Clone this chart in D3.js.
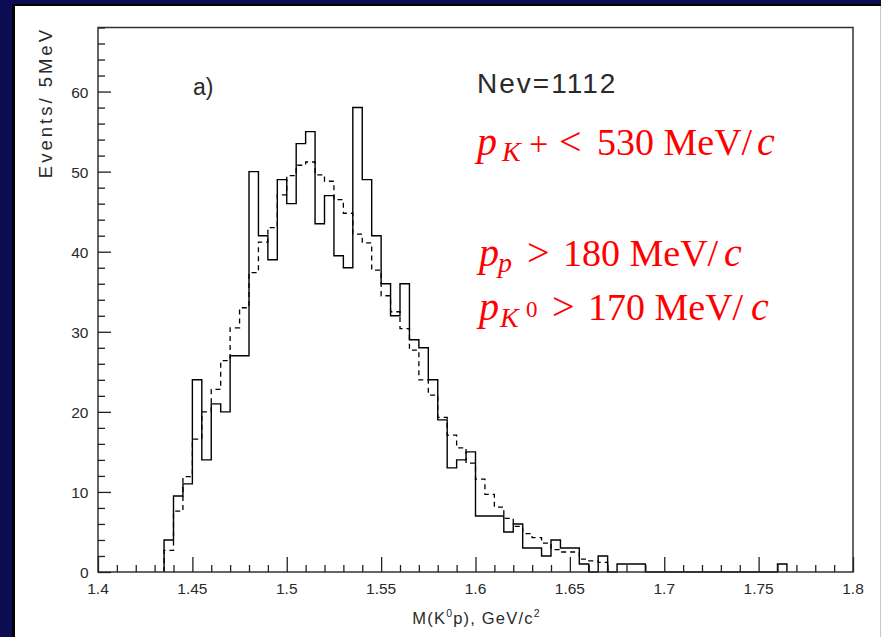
<!DOCTYPE html>
<html>
<head>
<meta charset="utf-8">
<script src="https://cdn.jsdelivr.net/npm/d3@7"></script>
<style>
  html, body { margin: 0; padding: 0; background: #0c0c52; }
  svg { display: block; }
</style>
</head>
<body>
<svg id="chart" width="881" height="637"></svg>
<script>
// Histogram binning: 5 MeV bins starting at 1.435 GeV/c^2
const binStart = 1.435;
const binWidth = 0.005;

// Observed events per bin (solid histogram)
const solidCounts = [
  4, 9.5, 11, 24, 14, 21, 20, 27, 27, 50,
  42, 39, 49, 46, 53.5, 55, 43.5, 47, 39.5, 38,
  58, 49, 42, 36, 32, 36, 29, 28, 24, 19,
  13, 14, 15, 7, 7, 7, 5, 6, 3, 3,
  2, 4, 3, 3, 1, 0, 2, 0, 1, 1,
  1, 0, 0, 0, 0, 0, 0, 0, 0, 0,
  0, 0, 0, 0, 0, 1
];

// Expected shape (dashed histogram)
const dashedCounts = [
  2.7, 7.6, 11.9, 16.6, 20.0, 22.8, 26.4, 30.5, 33.0, 37.4,
  41.2, 43.0, 47.1, 49.5, 50.8, 51.2, 49.6, 48.8, 46.5, 44.8,
  42.2, 41.1, 37.7, 34.5, 32.5, 30.4, 27.7, 24.0, 22.1, 19.3,
  17.1, 15.5, 13.6, 11.6, 9.7, 8.1, 6.7, 5.7, 4.8, 4.3,
  3.6, 2.8, 2.5, 2.5, 1.6, 1.4, 1.2
];

const xTickValues = [1.4, 1.45, 1.5, 1.55, 1.6, 1.65, 1.7, 1.75, 1.8];
const xTickLabels = ["1.4", "1.45", "1.5", "1.55", "1.6", "1.65", "1.7", "1.75", "1.8"];
const yTickValues = [0, 10, 20, 30, 40, 50, 60];

const svg = d3.select("#chart");
const W = 881, H = 637;

// Page frame: navy surround, thin black edge, white canvas
svg.append("rect").attr("width", W).attr("height", H).attr("fill", "#0c0c52");
svg.append("rect").attr("x", 12).attr("y", 4).attr("width", W - 12).attr("height", H - 4).attr("fill", "#000");
svg.append("rect").attr("x", 15).attr("y", 6).attr("width", 865).attr("height", H - 6).attr("fill", "#fff");
svg.append("rect").attr("x", 880).attr("y", 6).attr("width", 1).attr("height", H - 6).attr("fill", "#c8c8c8");

const plot = { left: 98, right: 853, top: 27.5, bottom: 572 };
const x = d3.scaleLinear().domain([1.4, 1.8]).range([plot.left, plot.right]);
const y = d3.scaleLinear().domain([0, 68]).range([plot.bottom, plot.top]);

const sans = "'Liberation Sans', Arial, Helvetica, sans-serif";
const serif = "'Liberation Serif', 'Times New Roman', Times, serif";
const ink = "#2a2a2a";

// Histogram outlines as step paths
function stepPoints(counts) {
  const pts = [[binStart, 0]];
  counts.forEach((c, i) => pts.push([binStart + i * binWidth, c]));
  pts.push([binStart + counts.length * binWidth, 0]);
  return pts;
}
const step = d3.line()
  .x(d => x(d[0]))
  .y(d => y(d[1]))
  .curve(d3.curveStepAfter);

svg.append("path")
  .attr("d", step(stepPoints(dashedCounts)))
  .attr("fill", "none")
  .attr("stroke", "#000")
  .attr("stroke-width", 1.3)
  .attr("stroke-dasharray", "5,4");

svg.append("path")
  .attr("d", step(stepPoints(solidCounts)))
  .attr("fill", "none")
  .attr("stroke", "#000")
  .attr("stroke-width", 1.4);

// Plot box
svg.append("rect")
  .attr("x", plot.left).attr("y", plot.top)
  .attr("width", plot.right - plot.left).attr("height", plot.bottom - plot.top)
  .attr("fill", "none").attr("stroke", "#333").attr("stroke-width", 1.5);

// Y axis: ticks drawn inward
const yAxis = d3.axisRight(y)
  .tickValues(d3.range(0, 69, 2))
  .tickSize(7)
  .tickFormat("");
const gy = svg.append("g").attr("transform", `translate(${plot.left},0)`).call(yAxis);
gy.select(".domain").remove();
gy.selectAll(".tick line")
  .attr("x2", d => (d % 10 === 0 ? 13 : 7))
  .attr("stroke", "#222").attr("stroke-width", 1.3);

svg.append("g").selectAll("text")
  .data(yTickValues)
  .join("text")
  .attr("x", 88.5)
  .attr("y", d => y(d) + 6)
  .attr("text-anchor", "end")
  .attr("font-family", sans)
  .attr("font-size", 15.5)
  .attr("fill", ink)
  .text(d => d);

// X axis: ticks drawn upward
const xAxis = d3.axisTop(x)
  .tickValues(d3.range(0, 41).map(i => 1.4 + i * 0.01))
  .tickSize(7)
  .tickFormat("");
const gx = svg.append("g").attr("transform", `translate(0,${plot.bottom})`).call(xAxis);
gx.select(".domain").remove();
gx.selectAll(".tick line")
  .attr("y2", (d, i) => (i % 5 === 0 ? -15 : -7))
  .attr("stroke", "#222").attr("stroke-width", 1.3);

svg.append("g").selectAll("text")
  .data(xTickValues)
  .join("text")
  .attr("x", d => x(d))
  .attr("y", 594)
  .attr("text-anchor", "middle")
  .attr("font-family", sans)
  .attr("font-size", 15.5)
  .attr("fill", ink)
  .text((d, i) => xTickLabels[i]);

// Axis titles
const xTitle = svg.append("text")
  .attr("x", (plot.left + plot.right) / 2 + 1)
  .attr("y", 624)
  .attr("text-anchor", "middle")
  .attr("font-family", sans)
  .attr("font-size", 16.5)
  .attr("letter-spacing", 1.2)
  .attr("fill", ink);
xTitle.append("tspan").text("M(K");
xTitle.append("tspan").attr("font-size", 10.5).attr("dy", -7).text("0");
xTitle.append("tspan").attr("dy", 7).text("p), GeV/c");
xTitle.append("tspan").attr("font-size", 10.5).attr("dy", -7).text("2");

svg.append("text")
  .attr("transform", "translate(52,27) rotate(-90)")
  .attr("text-anchor", "end")
  .attr("font-family", sans)
  .attr("font-size", 18.5)
  .attr("letter-spacing", 3)
  .attr("fill", ink)
  .text("Events/ 5MeV");

// Panel label and event count
svg.append("text")
  .attr("x", 193).attr("y", 95)
  .attr("font-family", sans).attr("font-size", 23)
  .attr("fill", ink)
  .text("a)");

svg.append("text")
  .attr("x", 477).attr("y", 92.5)
  .attr("font-family", sans).attr("font-size", 28)
  .attr("letter-spacing", 2)
  .attr("fill", ink)
  .text("Nev=1112");

// Momentum cuts (red)
const red = "#ff0000";
function cutLine(baseline, parts) {
  const t = svg.append("text")
    .attr("y", baseline)
    .attr("font-family", serif)
    .attr("font-size", 38)
    .attr("fill", red);
  parts.forEach(p => {
    const s = t.append("tspan").attr("x", p.x).attr("y", baseline + (p.shift || 0)).text(p.text);
    if (p.italic) s.attr("font-style", "italic");
    if (p.size) s.attr("font-size", p.size);
  });
}

cutLine(154.5, [
  { x: 477, text: "p", italic: true, size: 40 },
  { x: 502, text: "K", italic: true, size: 28, shift: 6 },
  { x: 529, text: "+", size: 34, shift: 0 },
  { x: 559, text: "<", size: 40 },
  { x: 597, text: "530 MeV/" },
  { x: 757, text: "c", italic: true, size: 40 }
]);

cutLine(265.5, [
  { x: 479, text: "p", italic: true, size: 40 },
  { x: 498, text: "p", italic: true, size: 28, shift: 6 },
  { x: 527, text: ">", size: 40 },
  { x: 563, text: "180 MeV/" },
  { x: 724, text: "c", italic: true, size: 40 }
]);

cutLine(320, [
  { x: 479, text: "p", italic: true, size: 40 },
  { x: 500, text: "K", italic: true, size: 28, shift: 6.5 },
  { x: 526, text: "0", size: 23, shift: -3.5 },
  { x: 552, text: ">", size: 40 },
  { x: 588, text: "170 MeV/" },
  { x: 751, text: "c", italic: true, size: 40 }
]);
</script>
</body>
</html>
